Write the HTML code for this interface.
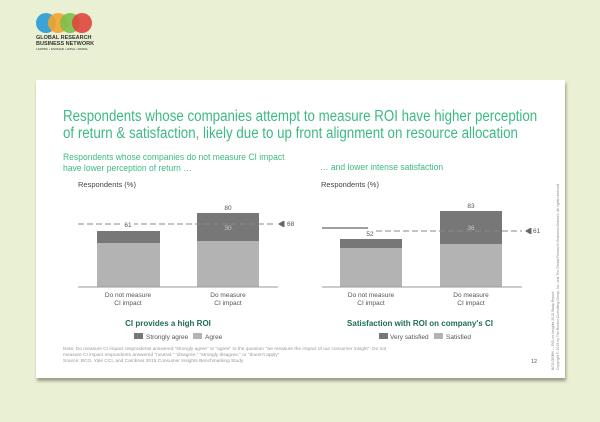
<!DOCTYPE html><html><head><style>
body{margin:0;width:600px;height:422px;background:#eaf0d4;font-family:"Liberation Sans",sans-serif;position:relative;overflow:hidden}
.a{position:absolute;white-space:nowrap}
.card{position:absolute;left:36px;top:80px;width:529px;height:298px;background:#fff;box-shadow:1px 3px 3px #9a9a88}
</style></head><body>
<svg class="a" style="left:34px;top:12px" width="60" height="24"><circle cx="12" cy="11" r="10" fill="#3ba3d8"/><circle cx="24" cy="11" r="10" fill="#f2a42c" opacity=".9"/><circle cx="36" cy="11" r="10" fill="#7cbf4a" opacity=".9"/><circle cx="48" cy="11" r="10" fill="#e0463c" opacity=".9"/></svg>
<div class="a" style="left:36px;top:36px;font-size:5.5px;font-weight:bold;color:#333;line-height:5.5px">GLOBAL RESEARCH<br>BUSINESS NETWORK<br><span style="font-size:3px;font-weight:normal">LARPRC • ESOMAR • AMSA • AIMRIA</span></div>
<div class="card"></div>
<div class="a" style="left:63px;top:108px;font-size:15.5px;color:#3dba84;line-height:17px;transform:scaleX(0.86);transform-origin:0 0">Respondents whose companies attempt to measure ROI have higher perception<br>of return &amp; satisfaction, likely due to up front alignment on resource allocation</div>
<div class="a" style="left:63px;top:152px;font-size:9px;color:#3dba84;line-height:10.5px;transform:scaleX(0.95);transform-origin:0 0">Respondents whose companies do not measure CI impact<br>have lower perception of return …</div>
<div class="a" style="left:320px;top:162px;font-size:9px;color:#3dba84;transform:scaleX(0.95);transform-origin:0 0">… and lower intense satisfaction</div>
<div class="a" style="left:78px;top:180px;font-size:7.5px;color:#444">Respondents (%)</div>
<div class="a" style="left:321px;top:180px;font-size:7.5px;color:#444">Respondents (%)</div>
<svg class="a" style="left:0;top:0" width="600" height="422" font-family="Liberation Sans" font-size="6.5" fill="#555">
<rect x="97" y="231" width="63" height="12" fill="#777"/><rect x="97" y="243" width="63" height="44" fill="#b3b3b3"/>
<rect x="197" y="213" width="62" height="28" fill="#777"/><rect x="197" y="241" width="62" height="46" fill="#b3b3b3"/>
<line x1="78" y1="287" x2="278" y2="287" stroke="#999"/>
<line x1="78" y1="224" x2="275" y2="224" stroke="#888" stroke-dasharray="6,3"/>
<rect x="122" y="220" width="12" height="8" fill="#fff"/>
<polygon points="278,224 283,221 283,227" fill="#666"/><rect x="283" y="221" width="1.5" height="6" fill="#666"/>
<text x="287" y="226">68</text><text x="128" y="227" text-anchor="middle">61</text><text x="228" y="210" text-anchor="middle">80</text><text x="228" y="230" text-anchor="middle" fill="#ccc">30</text>
<rect x="340" y="239" width="62" height="9" fill="#777"/><rect x="340" y="248" width="62" height="39" fill="#b3b3b3"/>
<rect x="440" y="211" width="62" height="33" fill="#777"/><rect x="440" y="244" width="62" height="43" fill="#b3b3b3"/>
<line x1="322" y1="287" x2="522" y2="287" stroke="#999"/>
<line x1="322" y1="228" x2="368" y2="228" stroke="#666" stroke-width="1.2"/>
<line x1="376" y1="231" x2="522" y2="231" stroke="#888" stroke-dasharray="6,3"/>
<polygon points="525,231 530,228 530,234" fill="#666"/><rect x="530" y="228" width="1.5" height="6" fill="#666"/>
<text x="533" y="233">61</text><text x="370" y="236" text-anchor="middle">52</text><text x="471" y="208" text-anchor="middle">83</text><text x="471" y="230" text-anchor="middle" fill="#ccc">36</text>
<g text-anchor="middle"><text x="128" y="297">Do not measure</text><text x="128" y="305">CI impact</text><text x="228" y="297">Do measure</text><text x="228" y="305">CI impact</text>
<text x="371" y="297">Do not measure</text><text x="371" y="305">CI impact</text><text x="471" y="297">Do measure</text><text x="471" y="305">CI impact</text>
<text x="168" y="326" font-size="8" font-weight="bold" fill="#1e6e4e">CI provides a high ROI</text>
<text x="420" y="326" font-size="8" font-weight="bold" fill="#1e6e4e">Satisfaction with ROI on company's CI</text></g>
<rect x="134" y="333" width="9" height="6" fill="#777"/><text x="146" y="339">Strongly agree</text><rect x="193" y="333" width="9" height="6" fill="#b3b3b3"/><text x="205" y="339">Agree</text>
<rect x="379" y="333" width="9" height="6" fill="#777"/><text x="390" y="339">Very satisfied</text><rect x="434" y="333" width="9" height="6" fill="#b3b3b3"/><text x="446" y="339">Satisfied</text>
<g font-size="4.8" fill="#999"><text x="63" y="350">Note: Do measure CI impact respondents answered "strongly agree" or "agree" to the question "we measure the impact of our consumer insight". Do not</text>
<text x="63" y="356">measure CI impact respondents answered "neutral," "disagree," "strongly disagree," or "doesn't apply"</text>
<text x="63" y="362">Source: BCG, Yale CCI, and Cambnar 2015 Consumer Insights Benchmarking Study</text></g>
<text x="531" y="363" font-size="5.5">12</text>
<g font-size="3.5" fill="#888"><text transform="translate(554,370) rotate(-90)">BCG.GRBN — ROI on Insights 2015 Study Report</text><text transform="translate(559,370) rotate(-90)">Copyright © 2015 by The Boston Consulting Group, Inc. and The Global Research Business Network. All rights reserved.</text></g>
</svg>
</body></html>
